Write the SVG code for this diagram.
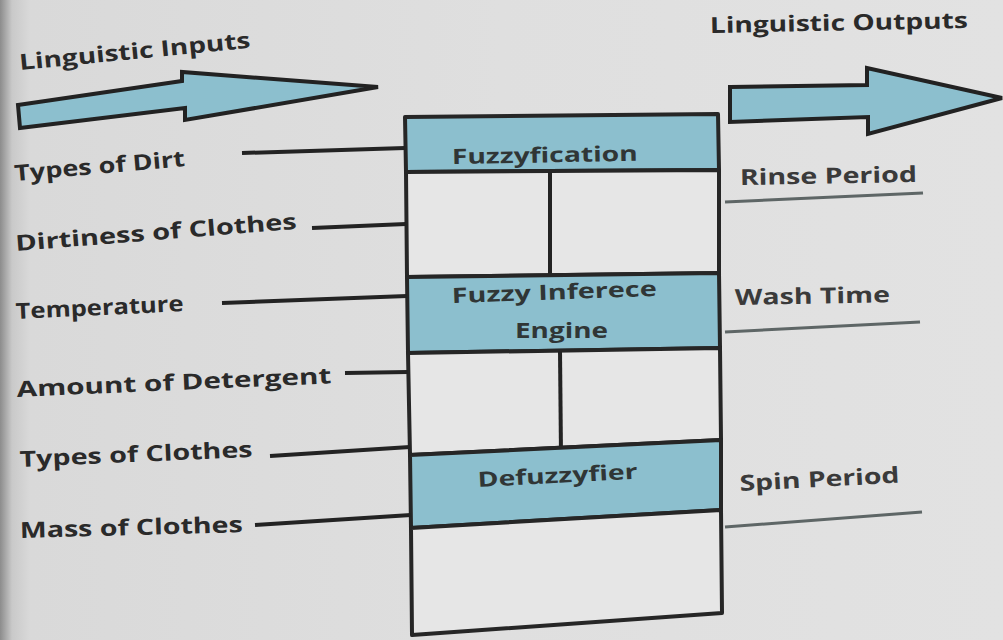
<svg xmlns="http://www.w3.org/2000/svg" width="1003" height="640" viewBox="0 0 1003 640">
  <defs>
    <linearGradient id="bg" x1="0" y1="0" x2="1" y2="0">
      <stop offset="0" stop-color="#8c8c8c"/>
      <stop offset="0.012" stop-color="#c9c9c9"/>
      <stop offset="0.03" stop-color="#d9d9d9"/>
      <stop offset="0.5" stop-color="#dfdfdf"/>
      <stop offset="1" stop-color="#e2e2e2"/>
    </linearGradient>
    <style>
      .lbl { font-family: "Open Sans", "DejaVu Sans", sans-serif; font-weight: bold; font-size: 22px; fill: #2a2a2a; lengthAdjust: spacingAndGlyphs; }
      .out { fill: #3a3a3a; }
      .blk { font-size: 21px; fill: #303636; }
      .band { fill: #8cbfce; stroke: #262626; stroke-width: 4; stroke-linejoin: round; }
      .cell { fill: #e6e6e6; stroke: #262626; stroke-width: 4; stroke-linejoin: round; }
      .arrow { fill: #8cbfce; stroke: #222; stroke-width: 4; stroke-linejoin: miter; }
      .wire { stroke: #232323; stroke-width: 4; fill: none; stroke-linecap: butt; }
      .owire { stroke: #5e6666; stroke-width: 3; fill: none; }
    </style>
  </defs>

  <rect x="0" y="0" width="1003" height="640" fill="url(#bg)"/>

  <!-- Big arrows -->
  <g id="input-arrow">
    <polygon class="arrow" points="18,105 182,81 182,72 378,87 185,120 185,108 20,128"/>
    <text class="lbl" x="20" y="70" textLength="232" lengthAdjust="spacingAndGlyphs" font-size="21" transform="rotate(-5.5 20 70)">Linguistic Inputs</text>
  </g>
  <g id="output-arrow">
    <polygon class="arrow" points="730,87 867,85 867,68 1002,98 868,134 868,117 730,122"/>
    <text class="lbl" x="710" y="33" textLength="258" lengthAdjust="spacingAndGlyphs" font-size="21" transform="rotate(-1.1 710 33)">Linguistic Outputs</text>
  </g>

  <!-- Processing blocks -->
  <g id="fuzzyfication">
    <polygon class="band" points="405,117 718,114 719,170 406,172"/>
    <text class="lbl blk" x="452" y="164" textLength="186" lengthAdjust="spacingAndGlyphs" transform="rotate(-1 452 164)">Fuzzyfication</text>
  </g>
  <g id="cell-1">
    <polygon class="cell" points="406,172 719,170 719,273 407,277"/>
    <line class="wire" x1="550" y1="172" x2="550" y2="276"/>
  </g>
  <g id="inference-engine">
    <polygon class="band" points="407,277 719,273 720,348 408,353"/>
    <text class="lbl blk" x="452" y="303" textLength="205" lengthAdjust="spacingAndGlyphs" transform="rotate(-2 452 303)">Fuzzy Inferece</text>
    <text class="lbl blk" x="515" y="338" textLength="93" lengthAdjust="spacingAndGlyphs">Engine</text>
  </g>
  <g id="cell-2">
    <polygon class="cell" points="408,353 720,348 721,440 410,455"/>
    <line class="wire" x1="560" y1="351" x2="561" y2="455"/>
  </g>
  <g id="defuzzyfier">
    <polygon class="band" points="410,455 721,440 721,510 411,528"/>
    <text class="lbl blk" x="478" y="487" textLength="160" lengthAdjust="spacingAndGlyphs" transform="rotate(-3 478 487)">Defuzzyfier</text>
  </g>
  <g id="cell-3">
    <polygon class="cell" points="411,528 721,510 722,613 412,635"/>
  </g>

  <!-- Input labels -->
  <g id="inputs">
    <text class="lbl" x="15" y="181" textLength="171" lengthAdjust="spacingAndGlyphs" transform="rotate(-5 15 181)">Types of Dirt</text>
    <text class="lbl" x="16" y="251" textLength="282" lengthAdjust="spacingAndGlyphs" transform="rotate(-4.5 16 251)">Dirtiness of Clothes</text>
    <text class="lbl" x="16" y="319" textLength="168" lengthAdjust="spacingAndGlyphs" transform="rotate(-2.7 16 319)">Temperature</text>
    <text class="lbl" x="17" y="397" textLength="315" lengthAdjust="spacingAndGlyphs" transform="rotate(-2.5 17 397)">Amount of Detergent</text>
    <text class="lbl" x="20" y="467" textLength="233" lengthAdjust="spacingAndGlyphs" transform="rotate(-2.5 20 467)">Types of Clothes</text>
    <text class="lbl" x="20" y="538" textLength="223" lengthAdjust="spacingAndGlyphs" transform="rotate(-1.5 20 538)">Mass of Clothes</text>
  </g>

  <!-- Output labels -->
  <g id="outputs">
    <text class="lbl out" x="740" y="185" textLength="177" lengthAdjust="spacingAndGlyphs" transform="rotate(-1 740 185)">Rinse Period</text>
    <text class="lbl out" x="735" y="305" textLength="155" lengthAdjust="spacingAndGlyphs" transform="rotate(-1 735 305)">Wash Time</text>
    <text class="lbl out" x="740" y="491" textLength="160" lengthAdjust="spacingAndGlyphs" transform="rotate(-3 740 491)">Spin Period</text>
  </g>

  <!-- Connectors -->
  <g id="connectors">
    <line class="wire" x1="242" y1="153" x2="405" y2="148"/>
    <line class="wire" x1="312" y1="228" x2="406" y2="224"/>
    <line class="wire" x1="222" y1="303" x2="407" y2="296"/>
    <line class="wire" x1="345" y1="373" x2="408" y2="372"/>
    <line class="wire" x1="270" y1="456" x2="410" y2="447"/>
    <line class="wire" x1="255" y1="525" x2="411" y2="515"/>
    <line class="owire" x1="725" y1="202" x2="923" y2="193"/>
    <line class="owire" x1="725" y1="332" x2="920" y2="322"/>
    <line class="owire" x1="725" y1="527" x2="922" y2="512"/>
  </g>
</svg>
